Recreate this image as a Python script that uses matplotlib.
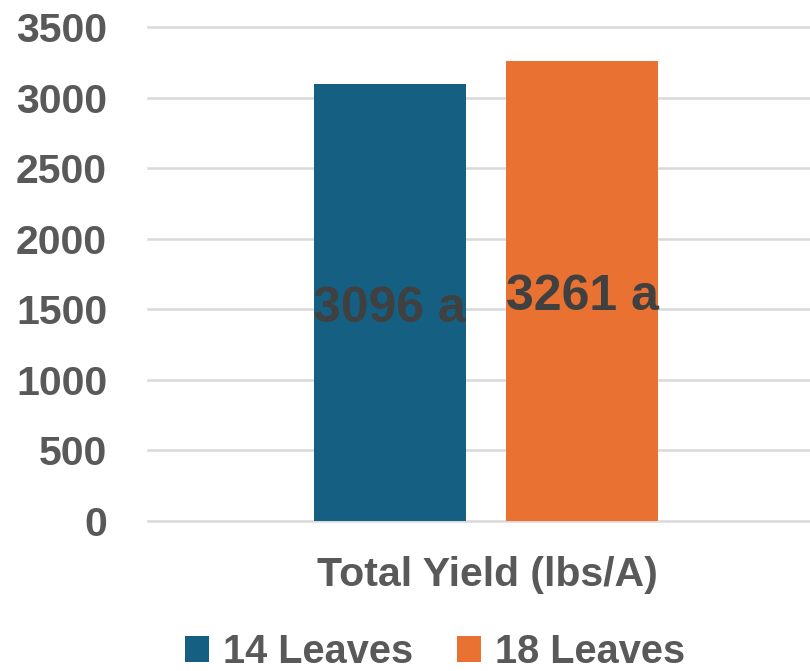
import numpy as np
import matplotlib.pyplot as plt
from matplotlib.patches import Patch

# data
series = ['14 Leaves', '18 Leaves']
values = [3096, 3261]
labels = ['3096 a', '3261 a']
colors = ['#156082', '#E97132']
category = 'Total Yield (lbs/A)'
yticks = [0, 500, 1000, 1500, 2000, 2500, 3000, 3500]

plt.rcParams['font.family'] = ['Liberation Sans', 'DejaVu Sans']

fig = plt.figure(figsize=(8.1, 6.71), dpi=100)
ax = fig.add_axes([148 / 810, 1 - 521 / 671, 1 - 148 / 810, (521 - 27) / 671])

# bar positions in units of bar width, group centered at 0
offsets = [-0.632, 0.632]
for x, v, lab, c in zip(offsets, values, labels, colors):
    ax.bar(x, v, width=1.0, color=c, zorder=2)
    ax.annotate(lab, (x, v / 2), xytext=(0, -4.5), textcoords='offset points',
                ha='center', va='center', fontsize=36,
                fontweight='bold', color='#404040', zorder=3)

ax.set_xlim(-2.22, 2.13)
ax.set_ylim(0, 3500)
ax.set_yticks(yticks)
ax.set_yticklabels([str(t) for t in yticks], fontsize=29.5, fontweight='bold', color='#595959')
ax.tick_params(axis='y', length=0, pad=29.5)
ax.set_xticks([])
for y in yticks:
    ax.axhline(y, color='#d9d9d9', lw=1.8, zorder=1, clip_on=False)
for s in ax.spines.values():
    s.set_visible(False)

fig.text(487 / 810, 1 - 575 / 671, category, ha='center', va='center',
         fontsize=29.5, fontweight='bold', color='#595959')

handles = [Patch(facecolor=c, label=s) for s, c in zip(series, colors)]
fig.legend(handles=handles, loc='center', bbox_to_anchor=(435 / 810, 1 - 652 / 671),
           ncol=2, frameon=False, prop={'weight': 'bold', 'size': 28.6},
           handlelength=0.6, handleheight=0.6, handletextpad=0.35, columnspacing=1.1,
           labelcolor='#595959')

fig.savefig('out.png', dpi=100)
